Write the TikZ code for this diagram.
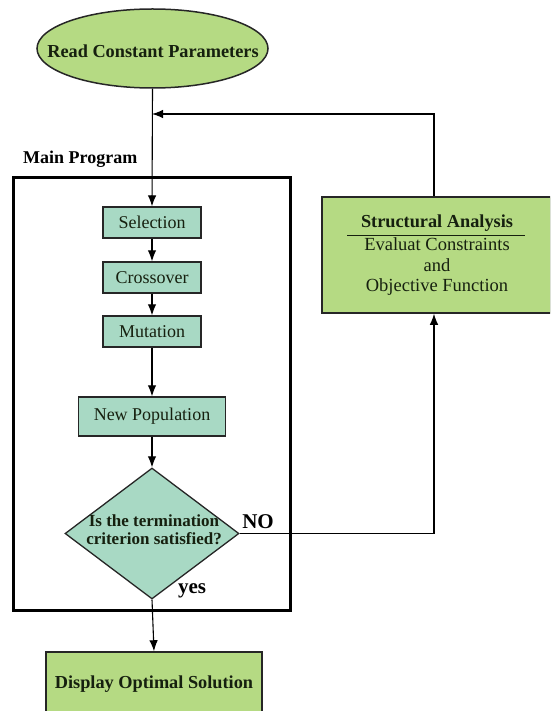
\documentclass[tikz,border=0pt]{standalone}
\usepackage{fontspec}
\setmainfont{Liberation Serif}
\usetikzlibrary{shapes.geometric,arrows.meta,calc}
\definecolor{lgreen}{HTML}{B5DA83}
\definecolor{mint}{HTML}{A8D9C4}
\definecolor{dtext}{HTML}{16200F}
\begin{document}
\begin{tikzpicture}[x=1pt,y=-1pt,
  proc/.style={draw=black!85,line width=1.3pt,fill=mint,minimum height=31pt,inner sep=0pt,font=\fontsize{18}{20}\selectfont,text=dtext},
  gbox/.style={draw=black!85,line width=1.5pt,fill=lgreen,inner sep=0pt},
  conn/.style={line width=1.1pt,-{Latex[length=11pt,width=8.5pt]}},
  boldtxt/.style={font=\bfseries\fontsize{18.3}{20}\selectfont,text=dtext},
  lab/.style={font=\bfseries\fontsize{21}{22}\selectfont}]
\useasboundingbox (0,0) rectangle (550,711);
\clip (0,0) rectangle (550,711);
% main program frame
\node[draw,line width=3pt,minimum width=277pt,minimum height=432pt,inner sep=0pt] (main) at (151.5,394) {};
\node[font=\bfseries\fontsize{18}{20}\selectfont,anchor=base west,inner sep=0pt] (mainlab) at (23,164) {Main Program};
% start
\node[gbox,ellipse,minimum width=231pt,minimum height=79pt] (read) at (152.5,48.5) {};
\node[boldtxt] (readtxt) at (153,51) {Read Constant Parameters};
% process boxes
\node[proc,minimum width=98pt] (sel) at (152,222.5) {Selection};
\node[proc,minimum width=98pt] (cro) at (152,277.5) {Crossover};
\node[proc,minimum width=98pt] (mut) at (152,331.5) {Mutation};
\node[proc,minimum width=147pt,minimum height=39pt] (newp) at (152,416.5) {New Population};
% decision
\node[draw=black!85,line width=1.3pt,fill=mint,diamond,minimum width=174pt,minimum height=131pt,inner sep=0pt] (dec) at (152,533.5) {};
\node[font=\bfseries\fontsize{17}{18}\selectfont,text=dtext,align=center,inner sep=0pt] (dectxt) at (154,530) {Is the termination\\criterion satisfied?};
% end
\node[gbox,minimum width=216pt,minimum height=64pt,boldtxt] (disp) at (154,684) {Display Optimal Solution};
% structural analysis
\node[gbox,minimum width=229pt,minimum height=116pt] (str) at (436.5,255) {};
\node[boldtxt,inner sep=0pt] (strtitle) at (437,223) {Structural Analysis};
\draw[line width=1.2pt,dtext] (347,235.5) -- (525,235.5);
\node[font=\fontsize{18.5}{20.5}\selectfont,text=dtext,align=center,inner sep=0pt] (strbody) at (437,267) {Evaluat Constraints\\and\\Objective Function};
% connectors
\coordinate (j) at (152,114);
\coordinate (rtop) at (434,114);
\draw[conn] (read.south) -- (sel.north);
\draw[conn] (str.north -| rtop) -- (rtop) -- (j);
\draw[conn] (sel.south) -- (cro.north);
\draw[conn] (cro.south) -- (mut.north);
\draw[conn] (mut.south) -- (newp.north);
\draw[conn] (newp.south) -- (dec.north);
\draw[conn] (dec.south) -- (disp.north);
\draw[conn] (dec.east) -| (str.south -| rtop);
% labels
\node[lab,inner sep=0pt] (no) at (258,522) {NO};
\node[lab,inner sep=0pt] (yes) at (192,591) {yes};
\end{tikzpicture}
\end{document}
